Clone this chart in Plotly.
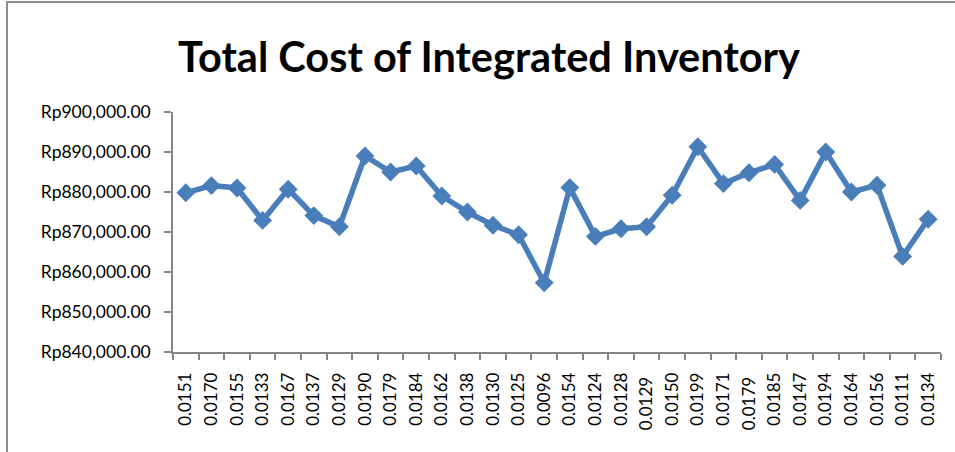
import plotly.graph_objects as go

categories = ["0.0151", "0.0170", "0.0155", "0.0133", "0.0167", "0.0137", "0.0129",
              "0.0190", "0.0179", "0.0184", "0.0162", "0.0138", "0.0130", "0.0125",
              "0.0096", "0.0154", "0.0124", "0.0128", "0.0129 ", "0.0150", "0.0199",
              "0.0171", "0.0179 ", "0.0185", "0.0147", "0.0194", "0.0164", "0.0156",
              "0.0111", "0.0134"]
total_cost = [879800, 881600, 881000, 872900, 880700, 874100, 871300,
              889000, 885000, 886500, 879000, 875000, 871700, 869300,
              857300, 881100, 868900, 870800, 871300, 879200, 891300,
              882100, 884800, 886900, 877900, 890000, 880000, 881700,
              863900, 873200]

title_text = "Total Cost of Integrated Inventory"

fig = go.Figure()
fig.add_trace(go.Scatter(
    x=categories, y=total_cost,
    mode="lines+markers",
    line=dict(color="#4A7EBB", width=5.5),
    marker=dict(symbol="diamond", size=14.5, color="#4A7EBB"),
    showlegend=False,
))

W, H = 955, 452
L, R, T, B = 173, 14, 112, 100

fig.update_layout(
    width=W, height=H,
    margin=dict(l=L, r=R, t=T, b=B),
    paper_bgcolor="white", plot_bgcolor="white",
    font=dict(family="Lato, Open Sans, sans-serif", color="#000000"),
    title=dict(text="<b>" + title_text + "</b>", x=489 / W, xanchor="center",
               y=1 - 57 / H, yanchor="middle",
               font=dict(size=41.5, family="Lato, sans-serif", color="#000000")),
    xaxis=dict(
        type="category", categoryorder="array", categoryarray=categories,
        range=[-0.5, len(categories) - 0.5], autorange=False,
        tickson="boundaries",
        tickangle=-90, tickfont=dict(size=17, family="Lato, sans-serif"),
        showline=True, linecolor="#868686", linewidth=1.5,
        ticks="outside", ticklen=6, tickcolor="#868686", tickwidth=1.5,
        showgrid=False, zeroline=False, ticklabelstandoff=12,
    ),
    yaxis=dict(
        range=[840000, 900000], dtick=10000, tick0=840000,
        tickprefix="Rp", tickformat=",.2f",
        tickfont=dict(size=17.5, family="Lato, sans-serif"),
        showline=True, linecolor="#868686", linewidth=1.5,
        ticks="outside", ticklen=7, tickcolor="#868686", tickwidth=1.5,
        showgrid=False, zeroline=False, ticklabelstandoff=10,
    ),
)

pw, ph = W - L - R, H - T - B
def px(x):
    return (x - L) / pw
def py(y):
    return (H - B - y) / ph

fig.add_shape(type="rect", xref="paper", yref="paper",
              x0=px(7), x1=px(962), y0=py(2), y1=py(470),
              line=dict(color="#8C8C8C", width=2), fillcolor="rgba(0,0,0,0)",
              layer="below")

fig.write_html("out.html", config={"displayModeBar": False},
               post_script="document.body.style.margin='0';document.body.style.overflow='hidden';")
